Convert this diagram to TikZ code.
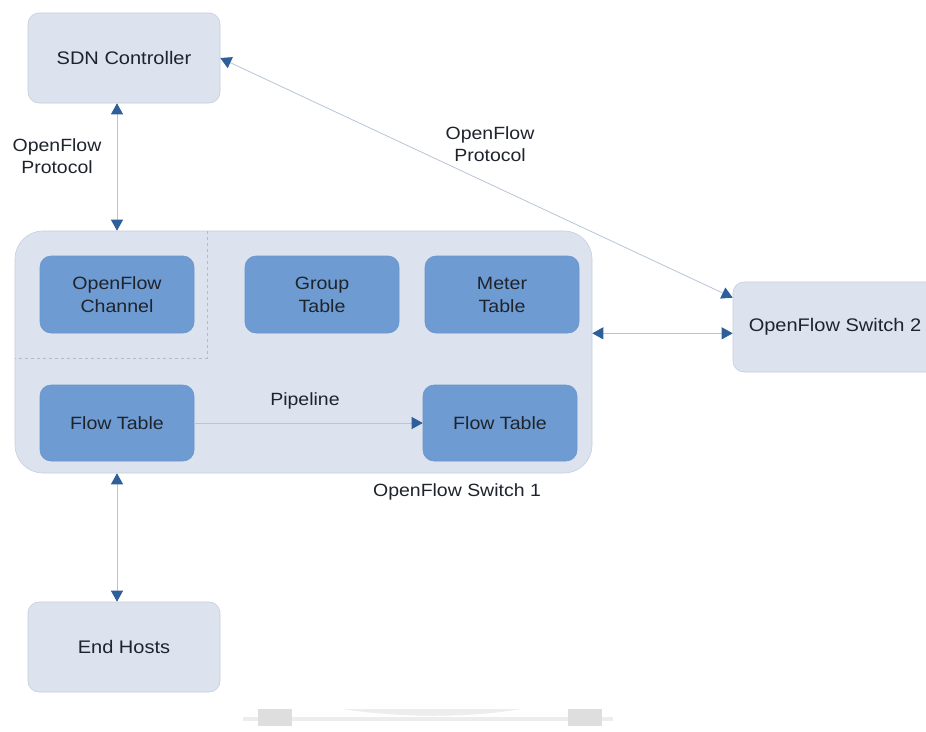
\documentclass[tikz,border=0pt]{standalone}
\usepackage{fontspec}
\setmainfont{Liberation Sans}[FakeStretch=1.1]
\usetikzlibrary{arrows.meta,calc}
\definecolor{lightfill}{HTML}{DCE3EE}
\definecolor{lightdraw}{HTML}{C4CEDB}
\definecolor{darkfill}{HTML}{6E9CD2}
\definecolor{darkdraw}{HTML}{6A96CB}
\definecolor{linecol}{HTML}{B8C5D6}
\definecolor{tipcol}{HTML}{2F5F9A}
\definecolor{txtcol}{HTML}{1E232C}
\definecolor{dashcol}{HTML}{B3BBC6}
\tikzset{
  lightbox/.style={draw=lightdraw, fill=lightfill, rounded corners=11pt, line width=0.6pt,
    text=txtcol, font=\fontsize{18.2}{23}\selectfont, align=center, inner sep=0pt},
  darkbox/.style={draw=darkdraw, fill=darkfill, rounded corners=11pt, line width=0.6pt,
    minimum width=154pt, minimum height=77pt, text=txtcol,
    font=\fontsize{17.8}{23}\selectfont, align=center, inner sep=0pt},
  conn/.style={draw=linecol, line width=0.8pt,
    {Triangle[length=11pt,width=12pt,color=tipcol]}-{Triangle[length=11pt,width=12pt,color=tipcol]}},
  oneway/.style={draw=linecol, line width=0.8pt, -{Triangle[length=11pt,width=12pt,color=tipcol]}},
  lbl/.style={text=txtcol, font=\fontsize{17.7}{22}\selectfont, align=center, inner sep=0pt}
}
\begin{document}
\begin{tikzpicture}[x=1pt,y=-1pt]
\useasboundingbox (0,0) rectangle (926,731);
\clip (0,0) rectangle (926,731);
\fill[white] (0,0) rectangle (926,731);
% outer boxes
\node[lightbox, minimum width=192pt, minimum height=90pt] (sdn) at (124,58) {SDN Controller};
\node[lightbox, minimum width=577pt, minimum height=242pt, rounded corners=28pt] (sw1) at (303.5,352) {};
\node[lightbox, minimum width=204pt, minimum height=90pt] (sw2) at (835,327) {OpenFlow Switch 2};
\node[lightbox, minimum width=192pt, minimum height=90pt] (end) at (124,647) {End Hosts};
% dashed separator
\draw[dashcol, line width=0.7pt, dash pattern=on 3pt off 3pt] (207,231) -- (207,358) -- (15,358);
% inner boxes
\node[darkbox] (ofc) at (117,294.5) {OpenFlow\\Channel};
\node[darkbox] (grp) at (322,294.5) {Group\\Table};
\node[darkbox] (met) at (502,294.5) {Meter\\Table};
\node[darkbox, minimum height=76pt] (ft1) at (117,423) {Flow Table};
\node[darkbox, minimum height=76pt] (ft2) at (500,423) {Flow Table};
% labels
\node[lbl] (lblA) at (57,156) {OpenFlow\\Protocol};
\node[lbl] (lblB) at (490,144) {OpenFlow\\Protocol};
\node[lbl] (lblP) at (305,401) {Pipeline};
\node[lbl] (lblS) at (457,492) {OpenFlow Switch 1};
% connectors
\draw[conn] (ofc.north |- sdn.south) -- (ofc.north |- sw1.north);
\draw[conn] (sdn.east) -- ([yshift=-16pt]sw2.north west);
\draw[conn] (sw1.east |- met.south) -- (sw2.west |- met.south);
\draw[oneway] (ft1.east) -- (ft2.west);
\draw[conn] (ofc.north |- sw1.south) -- (ofc.north |- end.north);
% faint artefact at bottom
\fill[black!7] (243,717) rectangle (613,721);
\fill[black!7] (342,709) .. controls (400,718) and (470,718) .. (520,709) -- cycle;
\fill[black!13] (258,709) rectangle (292,726);
\fill[black!13] (568,709) rectangle (602,726);
\end{tikzpicture}
\end{document}
